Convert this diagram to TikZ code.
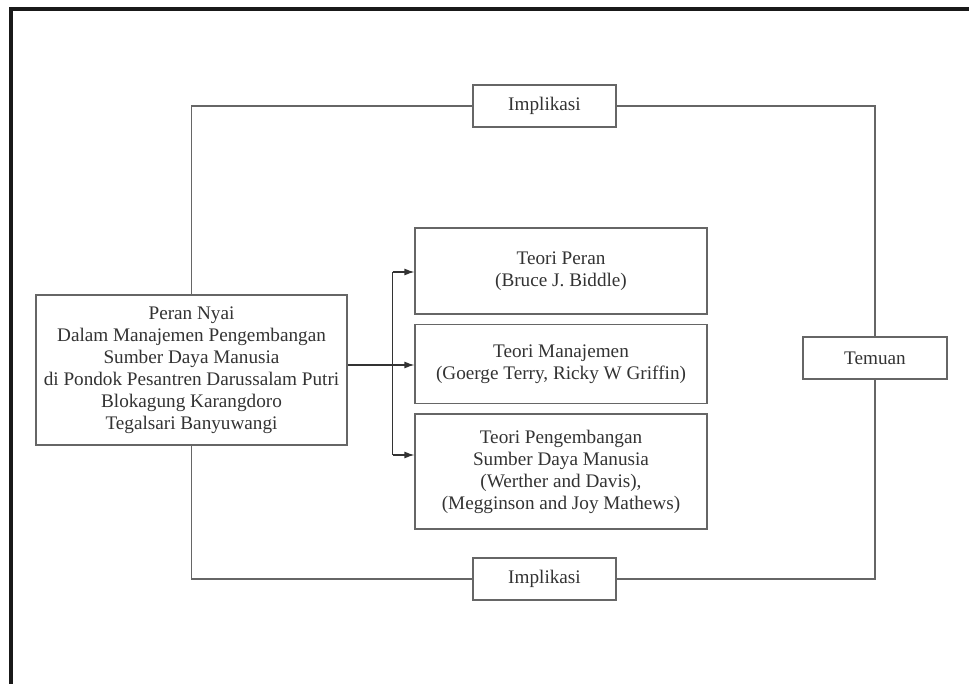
\documentclass[tikz,border=0pt]{standalone}
\usepackage{fontspec}
\setmainfont{Liberation Serif}
\usetikzlibrary{arrows.meta}
\definecolor{ln}{gray}{0.4}
\definecolor{tx}{gray}{0.2}
\tikzset{
  box/.style={draw=ln, line width=1.2pt, align=center, inner sep=0pt, text=tx,
    font=\fontsize{19.2}{22}\selectfont},
  conn/.style={draw=ln, line width=1.2pt},
  arr/.style={conn, -{Latex[length=10pt,width=7pt]}, draw=black!80}
}
\begin{document}
\begin{tikzpicture}[x=1pt,y=-1pt]
\useasboundingbox (0,0) rectangle (969,684);
\fill[white] (0,0) rectangle (969,684);
% frame
\draw[line width=3.8pt, black!90] (11.2,684) -- (11.2,9.3) -- (969,9.3);
% nodes
\node[box, minimum width=311pt, minimum height=150pt] (main) at (191.5,370)
  {Peran Nyai\\Dalam Manajemen Pengembangan\\Sumber Daya Manusia\\di Pondok Pesantren Darussalam Putri\\Blokagung Karangdoro\\Tegalsari Banyuwangi};
\node[box, minimum width=144pt, minimum height=42pt] (temuan) at (875,358) {Temuan};
\node[box, minimum width=143pt, minimum height=42pt] (imp1) at (544.5,106) {Implikasi};
\node[box, minimum width=143pt, minimum height=42pt] (imp2) at (544.5,579) {Implikasi};
\node[box, minimum width=292pt, minimum height=86pt] (peran) at (561,271) {Teori Peran\\(Bruce J. Biddle)};
\node[box, minimum width=292pt, minimum height=79pt] (man) at (561,364) {Teori Manajemen\\(Goerge Terry, Ricky W Griffin)};
\node[box, minimum width=292pt, minimum height=115pt] (peng) at (561,471.5) {Teori Pengembangan\\Sumber Daya Manusia\\(Werther and Davis),\\(Megginson and Joy Mathews)};
% loop
\draw[conn] (main.north) |- (imp1.west);
\draw[conn] (imp1.east) -| (temuan.north);
\draw[conn] (main.south) |- (imp2.west);
\draw[conn] (imp2.east) -| (temuan.south);
% arrows
\coordinate (b1) at (392.5,272);
\coordinate (b2) at (392.5,455);
\draw[conn, draw=black!80] (b1) -- (b2);
\draw[arr] (main.east |- 0,365) -- (man.west |- 0,365);
\draw[arr] (b1) -- (peran.west |- b1);
\draw[arr] (b2) -- (peng.west |- b2);
\end{tikzpicture}
\end{document}
